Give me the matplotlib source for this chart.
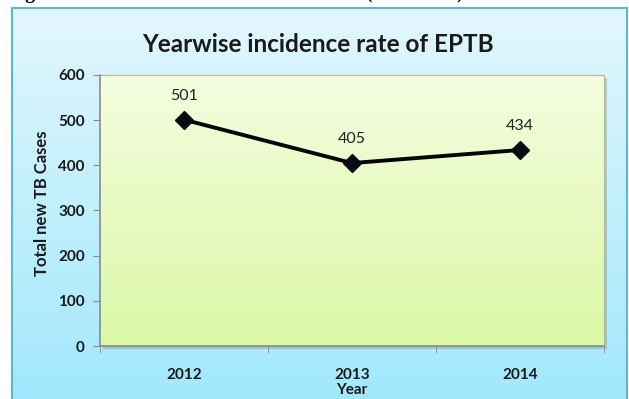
import numpy as np
import matplotlib
matplotlib.use("Agg")
import matplotlib.pyplot as plt
from matplotlib.colors import LinearSegmentedColormap
from matplotlib.patches import Rectangle

years = ["2012", "2013", "2014"]
cases = [501, 405, 434]
y_ticks = [0, 100, 200, 300, 400, 500, 600]
title = "Yearwise incidence rate of EPTB"
x_label = "Year"
y_label = "Total new TB Cases"
caption = "Figure 2: Yearwise incidence rate of EPTB (2012-2014)"

W, H = 629, 399
fig = plt.figure(figsize=(W / 100, H / 100), dpi=100)
fig.patch.set_facecolor("white")

def fx(px):
    return px / W

def fy(py):
    return 1 - py / H

# clipped caption at the very top (only descenders visible)
cap = fig.text(fx(8), 1 + 2 / H, caption, family="Liberation Serif",
               weight="bold", fontsize=16, va="baseline", ha="left")
r = fig.canvas.get_renderer()
w = cap.get_window_extent(renderer=r).width
cap.set_fontsize(16 * (466 - 8) / w)

# chart area background
bg = fig.add_axes([fx(12), 0, fx(627 - 12), 1 - 8 / H])
bg.set_zorder(0)
cmap_bg = LinearSegmentedColormap.from_list("bg", ["#e2f7fd", "#a2e8fc"])
bg.imshow(np.linspace(0, 1, 256).reshape(-1, 1), aspect="auto", cmap=cmap_bg,
          extent=[0, 1, 0, 1], origin="upper")
bg.set_xlim(0, 1)
bg.set_ylim(0, 1)
bg.set_xticks([])
bg.set_yticks([])
for s in bg.spines.values():
    s.set_color("#5cb8cc")
    s.set_linewidth(1.5)
bg.spines["bottom"].set_visible(False)

# plot area shadow
L, T, R, B = 100, 75, 604, 346
fig.patches.append(Rectangle((fx(L + 3), fy(B + 3)), fx(R - L), (B - T) / H,
                             transform=fig.transFigure, facecolor="#8a9a9a", alpha=0.45,
                             edgecolor="none", zorder=1))

ax = fig.add_axes([fx(L), fy(B), fx(R - L), (B - T) / H])
ax.set_zorder(2)
cmap_pl = LinearSegmentedColormap.from_list("pl", ["#f4fddf", "#dbf8a6"])
x = np.arange(len(years))
ax.imshow(np.linspace(0, 1, 256).reshape(-1, 1), aspect="auto", cmap=cmap_pl,
          extent=[-0.5, len(years) - 0.5, 0, 600], origin="upper", zorder=0)
ax.set_xlim(-0.5, len(years) - 0.5)
ax.set_ylim(0, 600)

ax.plot(x, cases, color="#050505", lw=2.8, marker="D", markersize=9,
        markerfacecolor="#0a0a14", markeredgecolor="#0a0a14", zorder=3)
for xi, v in zip(x, cases):
    ax.annotate(str(v), (xi, v), xytext=(0, 12), textcoords="offset points",
                ha="center", va="bottom", fontsize=11.5, family="Lato", color="#222222")

ax.set_yticks(y_ticks)
ax.set_yticklabels([str(t) for t in y_ticks], family="Lato", weight="bold", fontsize=11,
                   color="#1a1a1a")
ax.set_xticks(x)
ax.set_xticklabels(years, family="Lato", weight="bold", fontsize=11, color="#1a1a1a")
ax.set_xticks(np.arange(len(years) + 1) - 0.5, minor=True)
ax.tick_params(axis="x", which="major", length=0, pad=16)
ax.tick_params(axis="x", which="minor", length=5, color="#8a8a8a", direction="out")
ax.tick_params(axis="y", length=5, color="#8a8a8a", direction="out", pad=6)

for s in ["top", "right"]:
    ax.spines[s].set_color("#b0b890")
    ax.spines[s].set_linewidth(0.8)
for s in ["left", "bottom"]:
    ax.spines[s].set_color("#8a8a8a")
    ax.spines[s].set_linewidth(1.2)

fig.text(fx(352), fy(390), x_label, family="Lato", weight="bold", fontsize=11,
         ha="center", va="center", color="#1a1a1a")
fig.text(fx(42), fy(203), y_label, family="Lato", weight="bold", fontsize=12,
         ha="center", va="center", rotation=90, color="#1a1a1a")
fig.text(fx(318), fy(44), title, family="Lato", weight="bold", fontsize=17.5,
         ha="center", va="center", color="#1a1a1a")

fig.savefig("out.png", dpi=100)
